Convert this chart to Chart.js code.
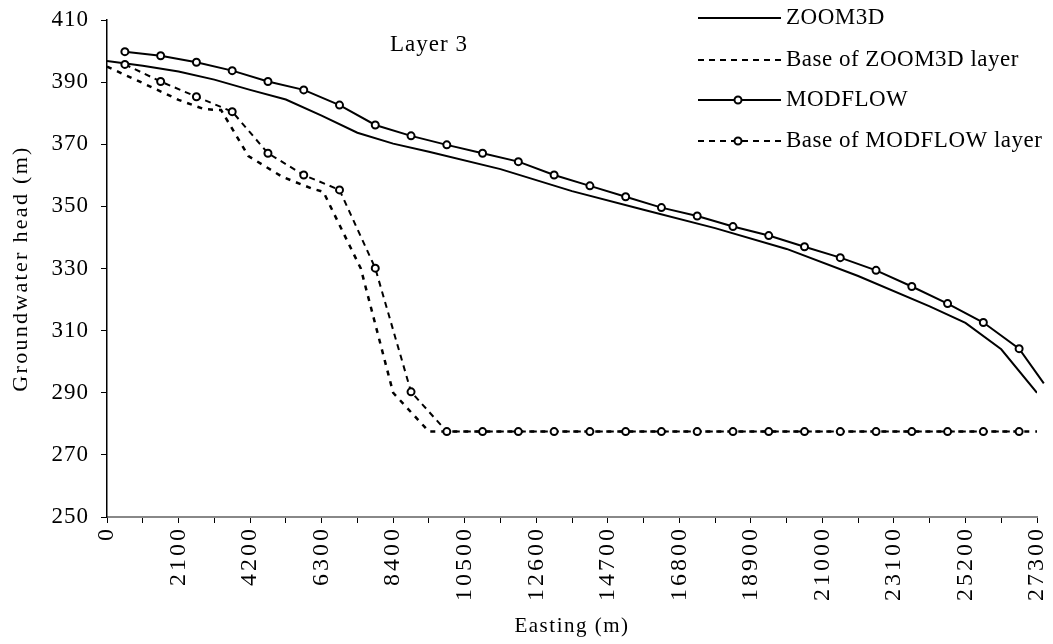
<!DOCTYPE html>
<html>
<head>
<meta charset="utf-8">
<script src="https://cdn.jsdelivr.net/npm/chart.js@4.4.0/dist/chart.umd.min.js"></script>
<style>
  html, body { margin: 0; padding: 0; background: #fff; }
  #wrap { width: 1053px; height: 644px; }
</style>
</head>
<body>
<div id="wrap"><canvas id="headChart"></canvas></div>
<script>
// ZOOM3D head (solid line, no markers)
var zoom3dX = [0, 1050, 2100, 3150, 4200, 5250, 6300, 7350, 8400, 9450, 11550, 13650, 15750, 17850, 19950, 22050, 24150, 25200, 26250, 27300];
var zoom3dHead = [396.8, 395.3, 393.4, 390.8, 387.5, 384.4, 379.2, 373.7, 370.2, 367.6, 362.0, 354.9, 348.9, 343.0, 336.3, 327.6, 317.8, 312.5, 304.0, 290.0];

// Base of ZOOM3D layer (dashed)
var zoom3dBaseX = [0, 1050, 2100, 2850, 3350, 4150, 5150, 6000, 6350, 7450, 8400, 9450, 27300];
var zoom3dBase = [395.0, 389.7, 384.3, 381.3, 381.0, 366.2, 359.5, 355.8, 354.7, 330.0, 290.0, 277.5, 277.5];

// MODFLOW cell centres
var modflowX = [525, 1575, 2625, 3675, 4725, 5775, 6825, 7875, 8925, 9975, 11025, 12075, 13125, 14175, 15225, 16275, 17325, 18375, 19425, 20475, 21525, 22575, 23625, 24675, 25725, 26775];
var modflowHead = [399.8, 398.5, 396.4, 393.7, 390.2, 387.5, 382.6, 376.2, 372.7, 369.8, 367.1, 364.4, 360.1, 356.6, 353.1, 349.6, 346.9, 343.5, 340.6, 337.0, 333.5, 329.4, 324.2, 318.7, 312.6, 304.2];
var modflowBase = [395.7, 390.2, 385.3, 380.5, 367.1, 360.1, 355.3, 330.1, 290.3, 277.5, 277.5, 277.5, 277.5, 277.5, 277.5, 277.5, 277.5, 277.5, 277.5, 277.5, 277.5, 277.5, 277.5, 277.5, 277.5, 277.5];
// where the MODFLOW head line runs out past the last cell
var modflowEndX = 27500;
var modflowEndHead = 293.0;

var xMin = 0, xMax = 27300, xStep = 1050, xLabelStep = 2100;
var yMin = 250, yMax = 410, yStep = 20;

var serif = '"Liberation Serif", "Times New Roman", serif';

function toPoints(xs, ys) {
    var pts = [];
    for (var i = 0; i < xs.length; i++) pts.push({ x: xs[i], y: ys[i] });
    return pts;
}

// the original text is a bit wider than the font, so add some letter spacing
function spaceText(scale, method, spacing) {
    var key = '_spaced_' + method;
    if (scale[key]) return;
    scale[key] = true;
    var orig = scale[method];
    scale[method] = function () {
        var c = this.ctx;
        var prev = c.letterSpacing;
        c.letterSpacing = spacing;
        orig.apply(this, arguments);
        c.letterSpacing = prev;
    };
}

function noPadding(s) {
    s.paddingLeft = 0; s.paddingRight = 0; s.paddingTop = 0; s.paddingBottom = 0;
}

var headPts = toPoints(modflowX, modflowHead);
headPts.push({ x: modflowEndX, y: modflowEndHead });

var legendItems = [
    { text: 'ZOOM3D', dash: [], marker: false },
    { text: 'Base of ZOOM3D layer', dash: [6, 5], marker: false },
    { text: 'MODFLOW', dash: [], marker: true },
    { text: 'Base of MODFLOW layer', dash: [6, 5], marker: true }
];

// legend box and the "Layer 3" label, drawn on top
var annotations = {
    id: 'annotations',
    afterDraw: function (chart) {
        var ctx = chart.ctx;
        ctx.save();
        ctx.letterSpacing = '1px';
        ctx.font = '23px ' + serif;
        ctx.fillStyle = '#000';
        ctx.textBaseline = 'middle';
        ctx.fillText('Layer 3', 390, 45);

        ctx.letterSpacing = '0.5px';
        var rowY = [18, 60, 100, 141];
        legendItems.forEach(function (item, i) {
            var y = rowY[i];
            ctx.strokeStyle = '#000';
            ctx.lineWidth = 2;
            ctx.setLineDash(item.dash);
            ctx.beginPath();
            ctx.moveTo(698, y);
            ctx.lineTo(781, y);
            ctx.stroke();
            ctx.setLineDash([]);
            if (item.marker) {
                ctx.beginPath();
                ctx.arc(738, y, 3.5, 0, Math.PI * 2);
                ctx.fillStyle = '#fff';
                ctx.fill();
                ctx.stroke();
            }
            ctx.fillStyle = '#000';
            ctx.fillText(item.text, 786, y);
        });
        ctx.restore();
    }
};

var ctx = document.getElementById('headChart').getContext('2d');
var headChart = new Chart(ctx, {
    type: 'scatter',
    data: {
        datasets: [{
            label: 'MODFLOW',
            data: headPts,
            showLine: true,
            borderColor: '#000',
            borderWidth: 2,
            pointRadius: function (c) { return c.dataIndex < modflowX.length ? 3.5 : 0; },
            pointBorderWidth: 2,
            pointBackgroundColor: '#fff',
            pointBorderColor: '#000',
            clip: false
        }, {
            label: 'Base of MODFLOW layer',
            data: toPoints(modflowX, modflowBase),
            showLine: true,
            borderColor: '#000',
            borderWidth: 2,
            borderDash: [6, 5],
            pointRadius: 3.5,
            pointBorderWidth: 2,
            pointBackgroundColor: '#fff',
            pointBorderColor: '#000'
        }, {
            label: 'ZOOM3D',
            data: toPoints(zoom3dX, zoom3dHead),
            showLine: true,
            borderColor: '#000',
            borderWidth: 2,
            pointRadius: 0
        }, {
            label: 'Base of ZOOM3D layer',
            data: toPoints(zoom3dBaseX, zoom3dBase),
            showLine: true,
            borderColor: '#000',
            borderWidth: 2.5,
            borderDash: [5, 6],
            pointRadius: 0
        }]
    },
    options: {
        responsive: true,
        maintainAspectRatio: false,
        animation: false,
        layout: { padding: { left: 0, right: 16, top: 20, bottom: 0 } },
        plugins: {
            legend: { display: false },
            tooltip: { enabled: false }
        },
        scales: {
            x: {
                type: 'linear',
                min: xMin,
                max: xMax,
                afterFit: function (s) {
                    s.height = 127;
                    noPadding(s);
                    spaceText(s, 'drawLabels', '3px');
                    spaceText(s, 'drawTitle', '1.5px');
                },
                afterBuildTicks: function (s) {
                    var t = [];
                    for (var v = xMin; v <= xMax; v += xStep) t.push({ value: v });
                    s.ticks = t;
                },
                ticks: {
                    autoSkip: false,
                    minRotation: 90,
                    maxRotation: 90,
                    padding: 3,
                    color: '#000',
                    font: { family: serif, size: 24 },
                    callback: function (v) { return v % xLabelStep === 0 ? String(v) : ''; }
                },
                grid: { drawOnChartArea: false, drawTicks: true, tickLength: 6, color: '#000' },
                border: { color: '#888', width: 2 },
                title: {
                    display: true,
                    text: 'Easting (m)',
                    color: '#000',
                    font: { family: serif, size: 21 },
                    padding: { top: 0, bottom: 5 }
                }
            },
            y: {
                type: 'linear',
                min: yMin,
                max: yMax,
                afterFit: function (s) {
                    s.width = 107;
                    noPadding(s);
                    spaceText(s, 'drawLabels', '1px');
                    spaceText(s, 'drawTitle', '2.3px');
                },
                ticks: {
                    stepSize: yStep,
                    padding: 12,
                    color: '#000',
                    font: { family: serif, size: 23 }
                },
                grid: { drawOnChartArea: false, drawTicks: true, tickLength: 6, color: '#000' },
                border: { color: '#000', width: 1.5 },
                title: {
                    display: true,
                    text: 'Groundwater head (m)',
                    color: '#000',
                    font: { family: serif, size: 22 },
                    padding: { top: 8, bottom: 0 }
                }
            }
        }
    },
    plugins: [annotations]
});
</script>
</body>
</html>
